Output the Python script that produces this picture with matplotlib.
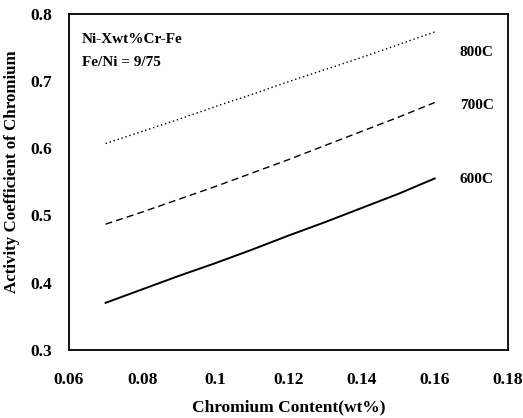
import numpy as np
import matplotlib
matplotlib.use("Agg")
import matplotlib.pyplot as plt

plt.rcParams['font.family'] = ['Liberation Serif', 'DejaVu Serif']
plt.rcParams['font.weight'] = 'bold'

# values
cr = [0.07, 0.08, 0.09, 0.10, 0.11, 0.12, 0.13, 0.14, 0.15, 0.16]
g600 = [0.370, 0.390, 0.410, 0.429, 0.449, 0.470, 0.490, 0.511, 0.532, 0.555]
g700 = [0.487, 0.505, 0.524, 0.543, 0.563, 0.583, 0.604, 0.625, 0.646, 0.668]
g800 = [0.607, 0.625, 0.643, 0.662, 0.680, 0.699, 0.717, 0.735, 0.754, 0.773]
labels = ["600C", "700C", "800C"]

fig = plt.figure(figsize=(5.23, 4.18), dpi=100)
ax = fig.add_axes([0.132, 0.163, 0.839, 0.804])

ax.plot(cr, g600, color="black", lw=1.4, linestyle="-")
ax.plot(cr, g700, color="black", lw=1.0, linestyle=(0, (5, 3)))
ax.plot(cr, g800, color="black", lw=1.0, linestyle=(0, (1, 2)))

ax.text(0.1715, 0.553, labels[0], fontsize=11, fontweight="bold", ha="center", va="center")
ax.text(0.1715, 0.663, labels[1], fontsize=11, fontweight="bold", ha="center", va="center")
ax.text(0.1715, 0.743, labels[2], fontsize=11, fontweight="bold", ha="center", va="center")

ax.text(0.0635, 0.762, "Ni-Xwt%Cr-Fe", fontsize=11, fontweight="bold", va="center")
ax.text(0.0635, 0.727, "Fe/Ni = 9/75", fontsize=11, fontweight="bold", va="center")

ax.set_xlim(0.06, 0.18)
ax.set_ylim(0.3, 0.8)
ax.set_xticks([0.06, 0.08, 0.1, 0.12, 0.14, 0.16, 0.18])
ax.set_xticklabels(["0.06", "0.08", "0.1", "0.12", "0.14", "0.16", "0.18"])
ax.set_yticks([0.3, 0.4, 0.5, 0.6, 0.7, 0.8])
ax.tick_params(length=0, labelsize=12.5)
ax.tick_params(axis="x", pad=16)
ax.tick_params(axis="y", pad=12)
for s in ax.spines.values():
    s.set_linewidth(1.3)

ax.set_xlabel("Chromium Content(wt%)", fontsize=12.5, fontweight="bold", labelpad=8)
ax.set_ylabel("Activity Coefficient of Chromium", fontsize=12.2, fontweight="bold")
ax.yaxis.set_label_coords(-0.112, 0.53)

fig.savefig("out.png", dpi=100)
